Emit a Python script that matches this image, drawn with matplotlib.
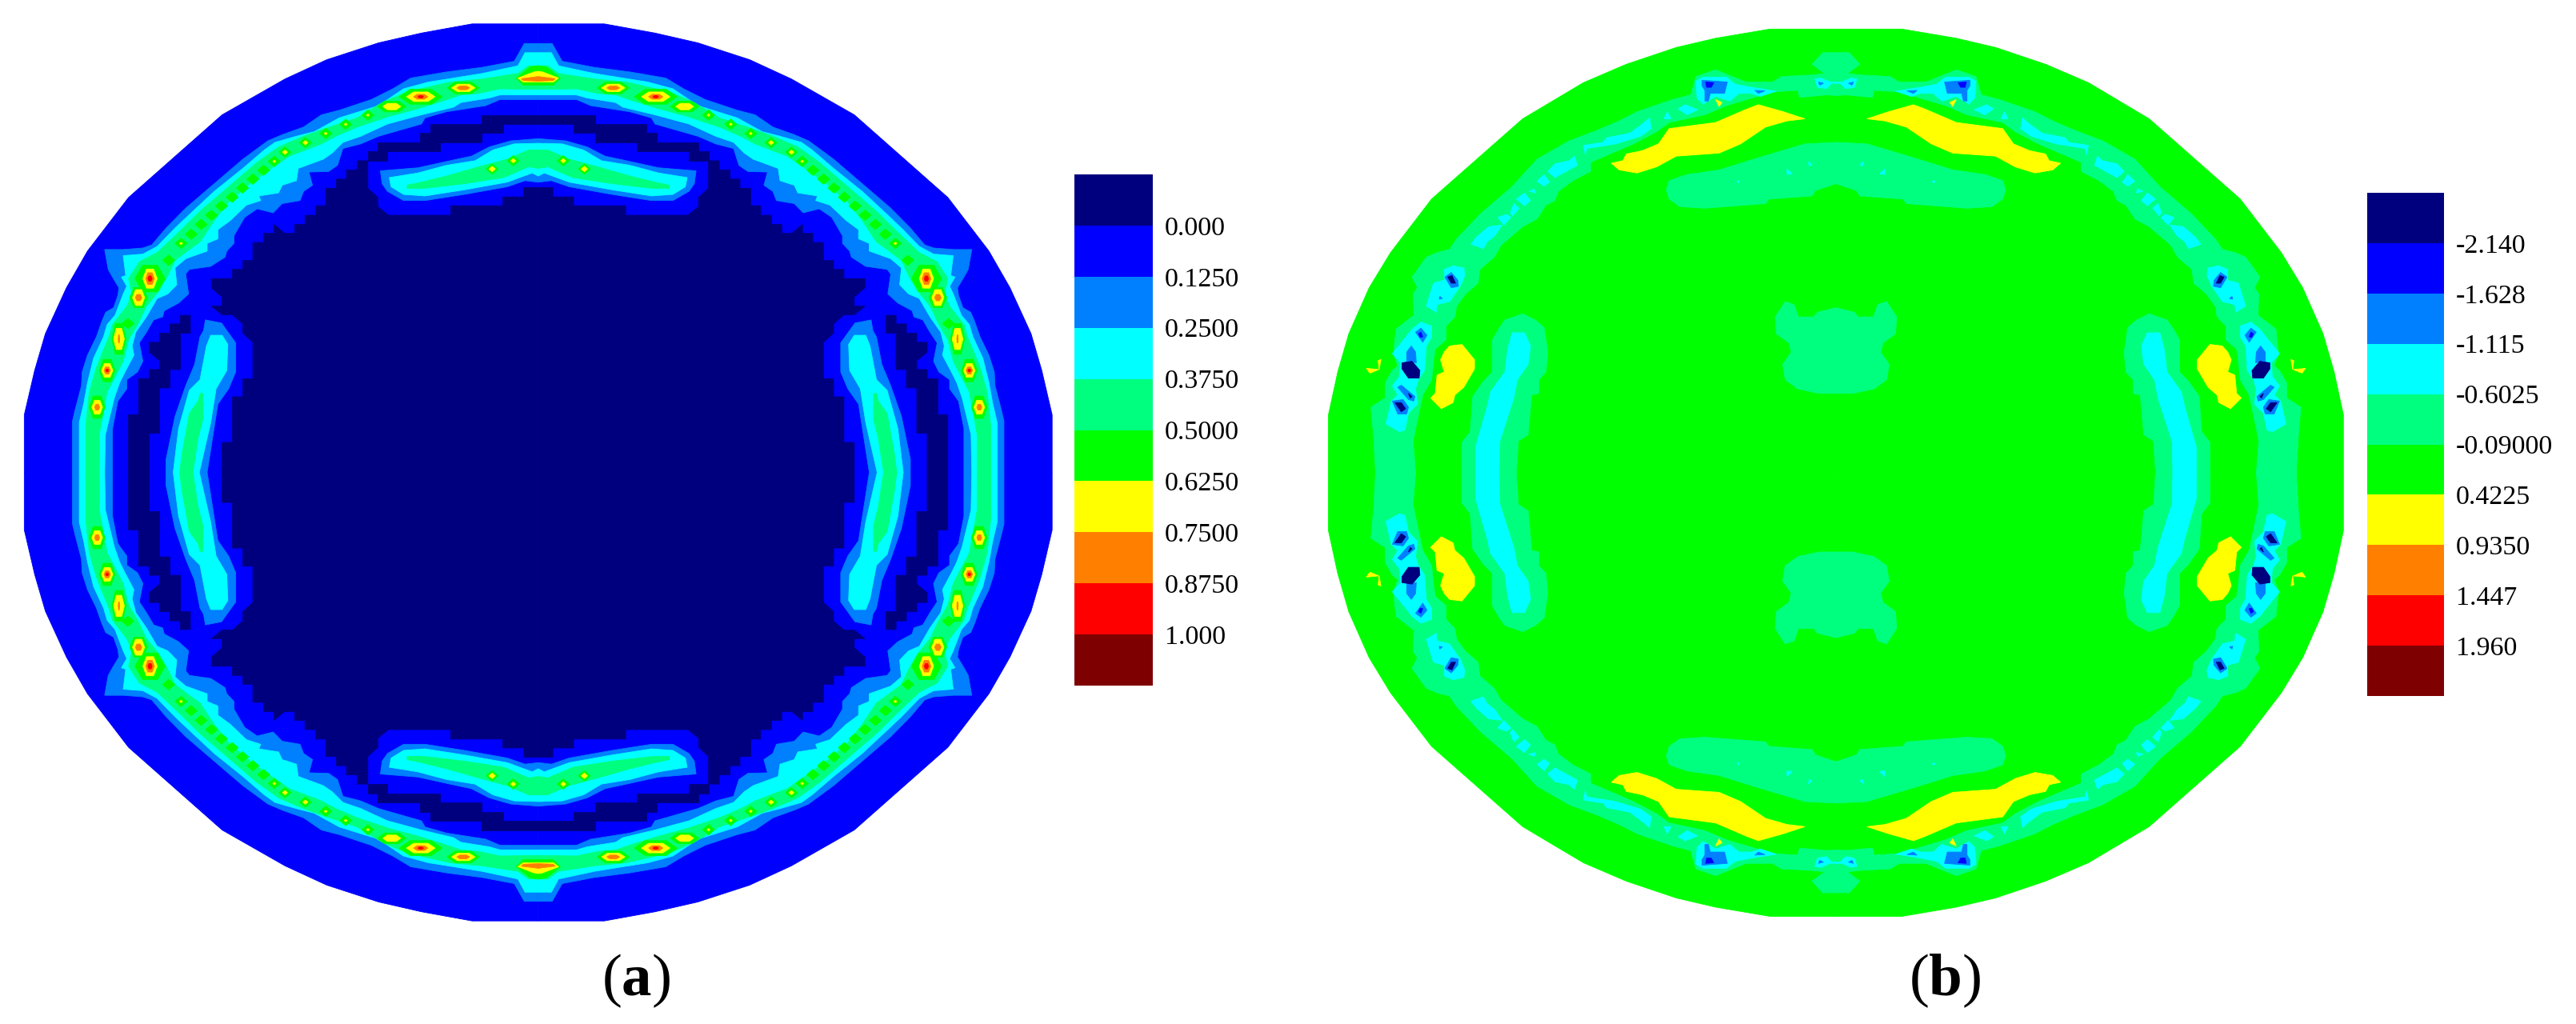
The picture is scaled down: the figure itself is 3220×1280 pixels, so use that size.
import matplotlib
matplotlib.use("Agg")
import numpy as np
import matplotlib.pyplot as plt

W, H = 3220, 1280
SX, SY = 2.24, 2.613   # traced units per pixel
NAVY, BLUE, AZURE, CYAN, SPRING, GREEN, YELLOW, ORANGE, RED, MAROON = (
    "#00007f", "#0000ff", "#007fff", "#00ffff", "#00ff7f",
    "#00ff00", "#ffff00", "#ff7f00", "#ff0000", "#7f0000")
band_colors = [NAVY, BLUE, AZURE, CYAN, SPRING, GREEN, YELLOW, ORANGE, RED, MAROON]
labels_a = ["0.000", "0.1250", "0.2500", "0.3750", "0.5000", "0.6250", "0.7500", "0.8750", "1.000"]
labels_b = ["-2.140", "-1.628", "-1.115", "-0.6025", "-0.09000", "0.4225", "0.9350", "1.447", "1.960"]

# ---------- panel (a): contour regions of the upper-left quadrant ----------
CX_A, CY_A = 1507, 1543
a_outline = [(68,1543),(68,1355),(97,1210),(127,1090),(186,940),(245,820),(360,645),(622,375),(798,258),(915,195),(1060,140),(1180,108),(1322,78),(1507,78),(1507,1543)]
a_navy_main = [(1030,525),(1000,525),(1000,555),(970,555),(970,585),(942,585),(942,615),(912,615),(912,672),(884,672),(884,703),(854,703),(854,733),(825,733),(825,762),(797,762),(767,733),(767,762),(738,762),(738,792),(708,792),(708,851),(680,851),(680,880),(651,880),(651,910),(592,910),(592,940),(622,970),(622,1000),(592,1000),(622,1028),(651,1028),(680,1058),(680,1088),(708,1118),(708,1237),(680,1237),(680,1296),(651,1296),(651,1445),(622,1445),(622,1543),(1507,1543),(1507,613),(1466,613),(1466,643),(1408,643),(1408,672),(1262,672),(1262,703),(1088,703),(1058,675),(1058,645),(1030,615)]
a_navy_top = [(1348,375),(1507,375),(1507,405),(1408,405),(1408,435),(1348,435),(1348,465),(1232,465),(1232,495),(1085,495),(1085,525),(1030,525),(1030,495),(1058,495),(1058,465),(1175,465),(1175,435),(1205,435),(1205,405),(1348,405)]
a_navy_left = [(360,1543),(360,1355),(388,1355),(388,1237),(418,1237),(418,1207),(447,1207),(447,1178),(418,1150),(418,1118),(447,1118),(447,1088),(476,1088),(476,1058),(505,1058),(505,1030),(533,1030),(533,1088),(505,1088),(505,1207),(476,1207),(476,1267),(447,1267),(447,1415),(418,1415),(418,1543)]
a_ring_azure = [(203,1543),(203,1375),(210,1340),(228,1260),(230,1215),(245,1160),(270,1100),(285,1050),(296,1020),(318,1005),(330,965),(333,940),(315,905),(303,880),(293,815),(345,815),(400,810),(425,800),(465,745),(520,680),(590,610),(680,520),(750,460),(790,440),(850,415),(900,375),(950,360),(1040,325),(1100,290),(1150,255),(1250,235),(1350,220),(1440,200),(1468,142),(1507,142),
                (1507,325),(1400,325),(1360,345),(1250,365),(1190,385),(1180,405),(1060,445),(1010,470),(960,485),(945,540),(920,560),(865,562),(875,605),(850,625),(840,655),(790,665),(765,695),(720,682),(685,710),(655,770),(655,795),(635,820),(630,840),(590,870),(530,880),(520,895),(528,960),(500,990),(460,1015),(455,1035),(430,1045),(410,1085),(390,1120),(400,1180),(385,1215),(355,1240),(355,1270),(330,1310),(315,1400),(315,1543)]
a_ring_cyan = [(222,1543),(222,1380),(235,1315),(245,1250),(262,1170),(290,1100),(300,1060),(322,1030),(345,960),(355,935),(340,905),(352,900),(345,835),(400,830),(440,805),(490,745),(540,690),(600,625),(680,550),(740,490),(770,465),(830,445),(880,430),(950,385),(1060,345),(1130,290),(1200,268),(1270,255),(1350,240),(1450,215),(1470,172),(1507,172),
               (1507,310),(1400,310),(1370,320),(1290,335),(1270,350),(1180,375),(1085,405),(1010,445),(960,465),(930,500),(905,520),(835,550),(830,590),(790,605),(780,630),(725,640),(730,655),(690,670),(645,720),(610,750),(610,780),(580,795),(580,820),(520,845),(490,875),(495,930),(470,960),(440,975),(410,1035),(380,1085),(370,1130),(375,1160),(350,1215),(335,1250),(320,1300),(295,1420),(293,1543)]
a_ring_spring = [(240,1543),(240,1390),(250,1280),(270,1200),(280,1170),(305,1100),(315,1060),(355,1000),(370,960),(360,910),(390,855),(440,825),(490,770),(560,690),(640,610),(720,530),(780,480),(850,445),(910,420),(1000,385),(1070,335),(1140,300),(1260,268),(1350,258),(1450,240),(1480,215),(1507,215),
                 (1507,292),(1400,290),(1340,305),(1290,310),(1240,330),(1170,355),(1090,380),(1000,415),(940,445),(900,470),(810,510),(760,550),(700,600),(640,660),(600,720),(560,790),(530,815),(490,850),(470,900),(445,950),(410,1000),(385,1060),(360,1110),(345,1180),(325,1225),(300,1280),(278,1420),(278,1543)]
a_top_azure = [(1065,558),(1170,548),(1260,525),(1320,510),(1370,480),(1430,460),(1507,453),(1507,595),(1470,590),(1420,610),(1300,635),(1190,655),(1130,655),(1085,625),(1070,600)]
a_top_cyan = [(1090,580),(1170,565),(1250,540),(1330,525),(1380,490),(1440,470),(1507,468),(1507,575),(1490,565),(1420,595),(1300,620),(1190,640),(1130,635),(1095,610)]
a_top_spring = [(1140,605),(1180,595),(1250,575),(1340,545),(1420,520),(1480,490),(1507,490),(1507,550),(1480,545),(1450,560),(1410,580),(1300,600),(1190,615),(1140,615)]
a_left_azure = [(575,1045),(620,1055),(660,1120),(660,1215),(640,1270),(610,1320),(580,1543),(465,1543),(465,1500),(490,1360),(520,1260),(545,1190),(560,1100),(570,1080)]
a_left_cyan = [(590,1095),(622,1095),(638,1125),(635,1210),(605,1270),(590,1380),(558,1543),(485,1543),(500,1400),(530,1275),(560,1240),(578,1130)]
a_left_spring = [(560,1285),(568,1285),(568,1370),(555,1430),(540,1543),(503,1543),(510,1480),(530,1350),(555,1310)]
a_top_green = [(1445,255),(1485,218),(1507,215),(1507,278),(1465,278)]
a_top_yellow = [(1450,255),(1495,235),(1507,233),(1507,268),(1465,268)]
a_top_orange = [(1460,257),(1507,250),(1507,265),(1465,263)]

a_green_dots_x = [1030,968,912,855,798,768,738,708,679,650,620,592,563,535,507,472,358,1378,1437]
a_green_dots_y = [376,406,436,466,497,527,556,585,614,644,673,703,733,765,795,850,1057,552,525]
a_yellow_dots_x = [1030,968,912,855,798,768,507,1378,1437]
a_yellow_dots_y = [376,406,436,466,497,527,795,552,525]
a_yellow_dots_s = [4,4,4,7,7,4,4,9,7]
# large hot spots: x, y, then half sizes (x, y) per level
a_hot_x = [1178,1297,1097,420,388,333,300,272]
a_hot_y = [316,287,348,910,972,1107,1210,1330]
a_hot_green = [(60,28),(45,22),(40,20),(42,50),(25,38),(20,58),(22,42),(22,42)]
a_hot_yellow = [(40,18),(33,14),(25,12),(20,36),(17,30),(15,40),(16,26),(15,26)]
a_hot_orange = [(20,9),(18,7),(0,0),(12,22),(9,12),(2,15),(9,13),(7,11)]
a_hot_red = [(8,4),(0,0),(0,0),(6,10),(0,0),(0,0),(4,5),(0,0)]

# ---------- panel (b) ----------
CX_B, CY_B = 1467, 1544
OFFSET_B = 1640 * SX
b_outline = [(46,1544),(46,1355),(72,1215),(103,1090),(160,940),(220,825),(335,650),(590,388),(760,270),(880,210),(1020,155),(1130,125),(1282,95),(1467,95),(1467,1544)]
b_ring_spring = [(178,1544),(172,1420),(165,1330),(205,1300),(205,1250),(225,1210),(240,1195),(228,1155),(235,1075),(285,1030),(283,960),(295,940),(280,905),(320,840),(350,825),(385,815),(405,780),(430,750),(470,700),(520,650),(560,610),(630,520),(720,460),(800,425),(860,395),(910,365),(1010,325),(1060,310),(1075,250),(1130,228),(1215,268),(1290,268),(1315,250),(1400,245),(1435,240),(1400,210),(1430,172),(1467,172),
                 (1467,312),(1440,310),(1365,318),(1360,295),(1290,300),(1160,345),(1100,375),(1000,400),(965,430),(900,470),(830,505),(780,530),(780,560),(730,590),(690,625),(680,655),(655,670),(630,715),(590,740),(560,770),(530,800),(510,840),(470,880),(465,925),(430,960),(405,1000),(400,1035),(375,1065),(375,1110),(345,1140),(340,1180),(335,1240),(310,1290),(290,1400),(283,1440),(290,1544)]
b_top_spring = [(1000,590),(1050,570),(1140,555),(1250,515),(1380,470),(1467,465),(1467,600),(1410,622),(1400,640),(1280,650),(1270,665),(1100,680),(1030,675),(1000,650),(992,620)]
b_mid_spring = [(1467,1005),(1415,1020),(1405,1035),(1362,1035),(1350,995),(1325,985),(1297,1035),(1300,1090),(1335,1120),(1342,1150),(1318,1190),(1325,1240),(1360,1270),(1420,1285),(1467,1285)]
b_arc_spring = [(590,1025),(625,1045),(650,1070),(660,1150),(655,1215),(635,1240),(635,1285),(615,1290),(605,1420),(578,1440),(572,1544),(420,1544),(420,1445),(443,1410),(450,1295),(480,1245),(505,1215),(505,1110),(522,1075),(540,1045)]
b_arc_cyan = [(560,1087),(595,1087),(612,1130),(605,1190),(575,1240),(565,1300),(525,1445),(524,1544),(458,1544),(458,1460),(490,1330),(500,1280),(540,1215),(548,1140)]
b_yellow_big = [(838,533),(870,525),(880,503),(925,492),(970,470),(1000,420),(1130,400),(1220,355),(1250,342),(1320,365),(1380,388),(1330,395),(1270,415),(1200,470),(1140,500),(1020,510),(965,545),(910,565),(860,555)]
b_yellow_left = [(385,1130),(420,1125),(455,1175),(455,1205),(425,1265),(400,1290),(395,1315),(362,1335),(332,1300),(345,1285),(350,1225),(370,1215),(360,1175),(370,1150)]
b_yellow_tiny1 = [(152,1203),(187,1207),(162,1219)]
b_yellow_tiny3 = [(185,1178),(193,1174),(188,1207)]
b_yellow_tiny2 = [(1130,325),(1148,335),(1140,348)]
b_cyan_patches = [
    [(445,798),(480,812),(490,790),(512,770),(532,735),(495,740),(460,775)],
    [(520,710),(545,700),(557,710),(537,735)],
    [(555,695),(565,665),(580,680),(562,705)],
    [(572,650),(595,630),(612,655),(595,672)],
    [(607,625),(622,617),(626,630)],
    [(630,592),(650,570),(665,595),(650,608)],
    [(660,560),(680,535),(720,525),(735,510),(743,540),(680,580)],
    [(760,475),(815,465),(825,450),(890,435),(925,405),(945,385),(950,420),(920,445),(850,470),(770,485),(765,505)],
    [(1025,355),(1045,342),(1080,358),(1050,375)],
    [(985,388),(995,365),(1005,388)],
    [(1075,265),(1095,252),(1160,252),(1185,275),(1230,285),(1300,298),(1255,315),(1230,305),(1195,305),(1170,330),(1130,315),(1095,340),(1078,320)],
    [(1408,258),(1425,255),(1450,268),(1467,268),(1467,272),(1455,272),(1440,290),(1415,285)],
    [(370,880),(395,868),(425,875),(428,900),(415,935),(385,985),(350,995),(348,1020),(320,1000),(340,925),(370,915)],
    [(280,1075),(305,1052),(335,1065),(335,1100),(320,1130),(315,1210),(298,1240),(290,1270),(295,1320),(270,1350),(260,1405),(245,1410),(207,1385),(222,1310),(240,1290),(225,1260),(245,1230),(248,1185),(225,1155),(260,1105)],
    [(1190,590),(1198,593),(1192,598)],[(1330,552),(1345,568),(1330,570)],[(1390,528),(1400,538),(1392,542)],
]
b_azure_patches = [
    [(1092,262),(1163,268),(1155,305),(1115,305),(1110,330),(1100,330),(1100,295),(1092,280)],
    [(1240,295),(1268,297),(1250,305)],
    [(1418,268),(1432,272),(1422,278)],
    [(372,905),(390,890),(408,915),(410,935),(390,940)],
    [(358,968),(365,975),(356,977)],
    [(290,1085),(305,1072),(322,1095),(310,1118)],
    [(265,1150),(278,1130),(290,1150),(292,1185),(265,1180)],
    [(240,1265),(250,1258),(288,1295),(285,1310),(270,1305)],
    [(225,1310),(255,1305),(270,1330),(265,1352),(240,1352)],
]
b_blue_patches = [
    [(1102,268),(1125,270),(1118,285),(1105,285)],
    [(298,1090),(305,1085),(310,1100),(303,1102)],
]
b_navy_patches = [
    [(380,905),(392,900),(402,925),(390,925)],
    [(252,1185),(280,1180),(302,1210),(300,1235),(270,1235),(252,1205)],
    [(270,1285),(280,1295),(275,1300)],
    [(232,1315),(250,1315),(262,1335),(250,1345)],
]

fig = plt.figure(figsize=(W / 100, H / 100), dpi=100, facecolor="white")
plt.rcParams["mathtext.fontset"] = "custom"
plt.rcParams["mathtext.rm"] = "Liberation Serif"
plt.rcParams["mathtext.bf"] = "Liberation Serif:bold"
ax = fig.add_axes([0, 0, 1, 1])
ax.set_xlim(0, W * SX)
ax.set_ylim(H * SY, 0)
ax.axis("off")


def region(points, color, cx, cy, dx=0.0):
    """Fill a traced region and its three mirror images."""
    p = np.array(points, dtype=float)
    for sx in (1, -1):
        for sy in (1, -1):
            ax.fill(cx + sx * (p[:, 0] - cx) + dx, cy + sy * (p[:, 1] - cy),
                    facecolor=color, edgecolor=color, lw=0.6)


def spot(x, y, hw, hh, color, cx, cy, n=6):
    if hw <= 0 or hh <= 0:
        return
    t = np.linspace(0, 2 * np.pi, n, endpoint=False) + (np.pi / 2 if n == 4 else 0)
    region(np.column_stack([x + hw * np.cos(t), y + hh * np.sin(t)]), color, cx, cy)


# panel (a)
region(a_outline, BLUE, CX_A, CY_A)
for poly in (a_navy_main, a_navy_top, a_navy_left):
    region(poly, NAVY, CX_A, CY_A)
for poly, col in [(a_ring_azure, AZURE), (a_ring_cyan, CYAN), (a_ring_spring, SPRING),
                  (a_top_azure, AZURE), (a_top_cyan, CYAN), (a_top_spring, SPRING),
                  (a_left_azure, AZURE), (a_left_cyan, CYAN), (a_left_spring, SPRING),
                  (a_top_green, GREEN), (a_top_yellow, YELLOW), (a_top_orange, ORANGE)]:
    region(poly, col, CX_A, CY_A)
for x, y in zip(a_green_dots_x, a_green_dots_y):
    spot(x, y, 17, 17, GREEN, CX_A, CY_A, n=4)
for x, y, s in zip(a_yellow_dots_x, a_yellow_dots_y, a_yellow_dots_s):
    spot(x, y, s, s, YELLOW, CX_A, CY_A, n=4)
for level, col in [(a_hot_green, GREEN), (a_hot_yellow, YELLOW), (a_hot_orange, ORANGE), (a_hot_red, RED)]:
    for x, y, (hw, hh) in zip(a_hot_x, a_hot_y, level):
        spot(x, y, hw, hh, col, CX_A, CY_A)

# panel (b)
region(b_outline, GREEN, CX_B, CY_B, OFFSET_B)
for poly, col in [(b_ring_spring, SPRING), (b_top_spring, SPRING), (b_mid_spring, SPRING),
                  (b_arc_spring, SPRING), (b_arc_cyan, CYAN), (b_yellow_big, YELLOW),
                  (b_yellow_left, YELLOW), (b_yellow_tiny1, YELLOW), (b_yellow_tiny2, YELLOW),
                  (b_yellow_tiny3, YELLOW)]:
    region(poly, col, CX_B, CY_B, OFFSET_B)
for group, col in [(b_cyan_patches, CYAN), (b_azure_patches, AZURE), (b_blue_patches, BLUE), (b_navy_patches, NAVY)]:
    for poly in group:
        region(poly, col, CX_B, CY_B, OFFSET_B)


def legend(x0, x1, y0, y1, labels):
    c = fig.add_axes([x0 / W, 1 - y1 / H, (x1 - x0) / W, (y1 - y0) / H])
    c.barh(np.arange(10) + 0.5, np.ones(10), height=1.0, color=band_colors, linewidth=0)
    c.set_xlim(0, 1)
    c.set_ylim(10, 0)
    c.set_xticks([])
    c.yaxis.tick_right()
    c.set_yticks(np.arange(1, 10))
    c.set_yticklabels(labels, family="Liberation Serif", fontsize=24.5, color="black")
    c.tick_params(axis="y", length=0, pad=10.5)
    for s in c.spines.values():
        s.set_visible(False)


legend(1343, 1441, 218, 857, labels_a)
legend(2959, 3055, 241, 870, labels_b)

fig.text(795 / W, 1 - 1226 / H, r"($\mathbf{a}$)", ha="center", va="center", fontsize=54,
         family="Liberation Serif")
fig.text(2431 / W, 1 - 1226 / H, r"($\mathbf{b}$)", ha="center", va="center", fontsize=54,
         family="Liberation Serif")

fig.savefig("out.png", dpi=100, facecolor="white")
